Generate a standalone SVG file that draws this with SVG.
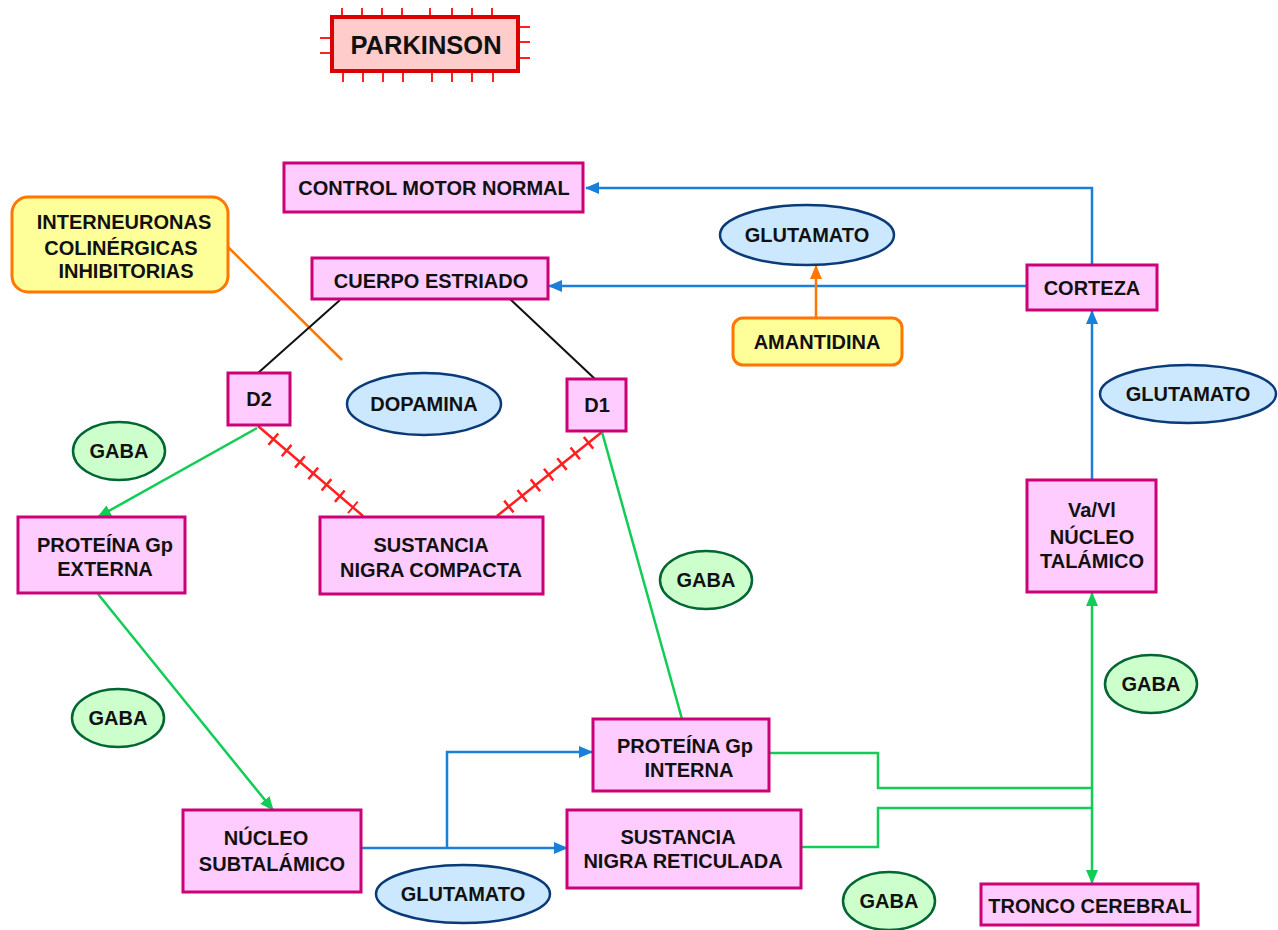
<svg xmlns="http://www.w3.org/2000/svg" width="1278" height="930" viewBox="0 0 1278 930">
<style>
  text { font-family: "Liberation Sans", Arial, sans-serif; font-weight: bold; font-size: 20px; fill: #111; text-anchor: middle; }
  .box { fill: #ffccff; stroke: #cc0077; stroke-width: 3; }
  .yel { fill: #ffff99; stroke: #ff7700; stroke-width: 3; }
  .blueE { fill: #cce8ff; stroke: #0a3a78; stroke-width: 2.5; }
  .greenE { fill: #ccffcc; stroke: #006633; stroke-width: 2.5; }
  .blue { fill: none; stroke: #1a7fd8; stroke-width: 2.5; }
  .green { fill: none; stroke: #11cc55; stroke-width: 2.5; }
  .orange { fill: none; stroke: #ff7700; stroke-width: 2.5; }
  .black { fill: none; stroke: #111; stroke-width: 2; }
  .red { fill: none; stroke: #ff2020; stroke-width: 2.5; }
  .hatch { fill: none; stroke: #ff2020; stroke-width: 15; }
  .tick { stroke: #ff2020; stroke-width: 2; }
</style>
<defs>
  <marker id="ab" markerUnits="userSpaceOnUse" markerWidth="14" markerHeight="12" refX="13" refY="6" orient="auto">
    <path d="M0,0 L14,6 L0,12 z" fill="#1a7fd8"/>
  </marker>
  <marker id="ag" markerUnits="userSpaceOnUse" markerWidth="14" markerHeight="12" refX="13" refY="6" orient="auto">
    <path d="M0,0 L14,6 L0,12 z" fill="#11cc55"/>
  </marker>
  <marker id="ao" markerUnits="userSpaceOnUse" markerWidth="14" markerHeight="12" refX="13" refY="6" orient="auto">
    <path d="M0,0 L14,6 L0,12 z" fill="#ff7700"/>
  </marker>
</defs>
<rect width="1278" height="930" fill="#ffffff"/>

<g id="connectors">
  <path class="blue" d="M1092,265 V188 H586" marker-end="url(#ab)"/>
  <path class="blue" d="M1027,286 H549" marker-end="url(#ab)"/>
  <path class="orange" d="M816,318 V266" marker-end="url(#ao)"/>
  <path class="orange" d="M228,247 L342,360"/>
  <path class="black" d="M340,300 L258,373"/>
  <path class="black" d="M510,299 L595,379"/>
  <path class="red" d="M258,426 L363,516"/>
  <path class="hatch" d="M272.4,438.4 L353.6,508" stroke-dasharray="2.5 15"/>
  <path class="red" d="M602,432 L497,516"/>
  <path class="hatch" d="M589.5,442 L507.5,507.6" stroke-dasharray="2.5 14.5"/>
  <path class="green" d="M257,428 L98,517" marker-end="url(#ag)"/>
  <path class="green" d="M98,594 L273,810" marker-end="url(#ag)"/>
  <path class="green" d="M602,432 L682,719"/>
  <path class="blue" d="M1092,480 V311" marker-end="url(#ab)"/>
  <path class="green" d="M1092,788 V593" marker-end="url(#ag)"/>
  <path class="green" d="M1092,788 V883" marker-end="url(#ag)"/>
  <path class="green" d="M769,753 H878 V788 H1092"/>
  <path class="green" d="M801,847 H878 V808 H1092"/>
  <path class="blue" d="M361,848 H567" marker-end="url(#ab)"/>
  <path class="blue" d="M447,848 V752 H592" marker-end="url(#ab)"/>
</g>

<g id="parkinson">
  <g class="tick">
    <line x1="342" y1="8" x2="342" y2="27"/><line x1="362" y1="8" x2="362" y2="27"/>
    <line x1="382" y1="8" x2="382" y2="27"/><line x1="402" y1="8" x2="402" y2="27"/>
    <line x1="430" y1="8" x2="430" y2="27"/><line x1="452" y1="8" x2="452" y2="27"/>
    <line x1="472" y1="8" x2="472" y2="27"/><line x1="492" y1="8" x2="492" y2="27"/>
    <line x1="343" y1="62" x2="343" y2="82"/><line x1="363" y1="62" x2="363" y2="82"/>
    <line x1="383" y1="62" x2="383" y2="82"/><line x1="403" y1="62" x2="403" y2="82"/>
    <line x1="432" y1="62" x2="432" y2="82"/><line x1="452" y1="62" x2="452" y2="82"/>
    <line x1="472" y1="62" x2="472" y2="82"/><line x1="493" y1="62" x2="493" y2="82"/>
    <line x1="320" y1="38" x2="343" y2="38"/><line x1="320" y1="53" x2="343" y2="53"/>
    <line x1="507" y1="27" x2="530" y2="27"/><line x1="507" y1="42" x2="530" y2="42"/>
    <line x1="507" y1="58" x2="530" y2="58"/>
  </g>
  <rect x="332" y="17" width="186" height="54" fill="#ffcccc" stroke="#dd0000" stroke-width="4"/>
  <text x="426" y="54" style="font-size:25.5px">PARKINSON</text>
</g>

<g id="control-motor">
  <rect class="box" x="284" y="163" width="299" height="49"/>
  <text x="434" y="195">CONTROL MOTOR NORMAL</text>
</g>

<g id="cuerpo-estriado">
  <rect class="box" x="312" y="258" width="236" height="41"/>
  <text x="431" y="288">CUERPO ESTRIADO</text>
</g>

<g id="interneuronas">
  <rect class="yel" x="12" y="197" width="216" height="95" rx="16"/>
  <text x="124" y="229">INTERNEURONAS</text>
  <text x="121" y="255">COLINÉRGICAS</text>
  <text x="126" y="278">INHIBITORIAS</text>
</g>

<g id="glutamato-top">
  <ellipse class="blueE" cx="807" cy="235" rx="87" ry="30"/>
  <text x="807" y="242">GLUTAMATO</text>
</g>

<g id="amantidina">
  <rect class="yel" x="733" y="318" width="169" height="47" rx="10"/>
  <text x="817" y="349">AMANTIDINA</text>
</g>

<g id="corteza">
  <rect class="box" x="1027" y="265" width="130" height="45"/>
  <text x="1092" y="295">CORTEZA</text>
</g>

<g id="glutamato-right">
  <ellipse class="blueE" cx="1188" cy="394" rx="88" ry="29"/>
  <text x="1188" y="401">GLUTAMATO</text>
</g>

<g id="d2">
  <rect class="box" x="228" y="373" width="62" height="52"/>
  <text x="259" y="406">D2</text>
</g>

<g id="dopamina">
  <ellipse class="blueE" cx="424" cy="404" rx="77" ry="31"/>
  <text x="424" y="411">DOPAMINA</text>
</g>

<g id="d1">
  <rect class="box" x="567" y="379" width="59" height="52"/>
  <text x="597" y="412">D1</text>
</g>

<g id="gaba-1">
  <ellipse class="greenE" cx="119" cy="451" rx="46" ry="29"/>
  <text x="119" y="458">GABA</text>
</g>

<g id="proteina-externa">
  <rect class="box" x="18" y="517" width="167" height="76"/>
  <text x="105" y="552">PROTEÍNA Gp</text>
  <text x="105" y="576">EXTERNA</text>
</g>

<g id="sustancia-compacta">
  <rect class="box" x="320" y="517" width="223" height="77"/>
  <text x="431" y="552">SUSTANCIA</text>
  <text x="431" y="577">NIGRA COMPACTA</text>
</g>

<g id="gaba-2">
  <ellipse class="greenE" cx="706" cy="580" rx="46" ry="29"/>
  <text x="706" y="587">GABA</text>
</g>

<g id="nucleo-talamico">
  <rect class="box" x="1027" y="480" width="129" height="112"/>
  <text x="1092" y="517">Va/Vl</text>
  <text x="1092" y="544">NÚCLEO</text>
  <text x="1092" y="568">TALÁMICO</text>
</g>

<g id="gaba-3">
  <ellipse class="greenE" cx="118" cy="718" rx="46" ry="29"/>
  <text x="118" y="725">GABA</text>
</g>

<g id="gaba-4">
  <ellipse class="greenE" cx="1151" cy="684" rx="46" ry="29"/>
  <text x="1151" y="691">GABA</text>
</g>

<g id="proteina-interna">
  <rect class="box" x="593" y="719" width="176" height="72"/>
  <text x="685" y="753">PROTEÍNA Gp</text>
  <text x="689" y="777">INTERNA</text>
</g>

<g id="nucleo-subtalamico">
  <rect class="box" x="183" y="810" width="178" height="82"/>
  <text x="266" y="845">NÚCLEO</text>
  <text x="272" y="871">SUBTALÁMICO</text>
</g>

<g id="sustancia-reticulada">
  <rect class="box" x="567" y="810" width="234" height="78"/>
  <text x="678" y="844">SUSTANCIA</text>
  <text x="683" y="868">NIGRA RETICULADA</text>
</g>

<g id="glutamato-bottom">
  <ellipse class="blueE" cx="463" cy="894" rx="87" ry="29"/>
  <text x="463" y="901">GLUTAMATO</text>
</g>

<g id="gaba-5">
  <ellipse class="greenE" cx="889" cy="901" rx="46" ry="29"/>
  <text x="889" y="908">GABA</text>
</g>

<g id="tronco-cerebral">
  <rect class="box" x="981" y="884" width="217" height="41"/>
  <text x="1090" y="913">TRONCO CEREBRAL</text>
</g>
</svg>
